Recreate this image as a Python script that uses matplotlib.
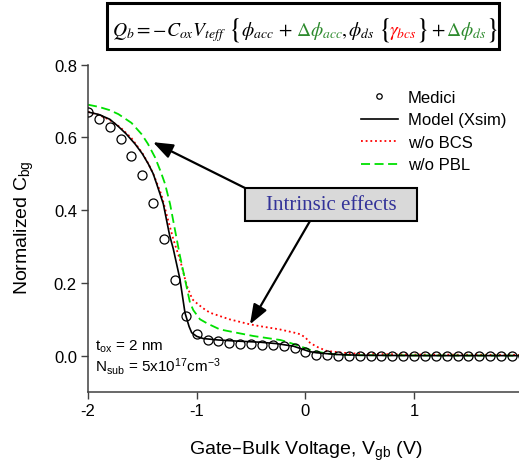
import matplotlib
matplotlib.use("Agg")
import matplotlib.pyplot as plt
from matplotlib.patches import Rectangle

plt.rcParams['font.family'] = ['Liberation Sans', 'DejaVu Sans']

# Medici (device simulation) points
medici_x = [-2.0, -1.9, -1.8, -1.7, -1.6, -1.5, -1.4, -1.3, -1.2, -1.1, -1.0,
            -0.9, -0.8, -0.7, -0.6, -0.5, -0.4, -0.3, -0.2, -0.1, 0.0,
            0.1, 0.2, 0.3, 0.4, 0.5, 0.6, 0.7, 0.8, 0.9, 1.0,
            1.1, 1.2, 1.3, 1.4, 1.5, 1.6, 1.7, 1.8, 1.9, 2.0]
medici_y = [0.669, 0.650, 0.630, 0.595, 0.549, 0.496, 0.419, 0.322, 0.208, 0.109, 0.059,
            0.043, 0.039, 0.036, 0.033, 0.031, 0.030, 0.028, 0.026, 0.020, 0.009,
            0.003, 0.001, 0.0, 0.0, 0.0, 0.0, 0.0, 0.0, 0.0, 0.0,
            0.0, 0.0, 0.0, 0.0, 0.0, 0.0, 0.0, 0.0, 0.0, 0.0]

# Model (Xsim)
model_x = [-2.0, -1.9, -1.8, -1.72, -1.65, -1.567, -1.5, -1.445, -1.4, -1.368, -1.338,
           -1.307, -1.25, -1.215, -1.154, -1.108, -1.07, -1.046, -1.0, -0.94, -0.8,
           -0.632, -0.42, -0.264, -0.11, 0.0, 0.04, 0.1, 0.195, 0.3, 0.5, 1.0, 2.0]
model_y = [0.670, 0.663, 0.650, 0.630, 0.610, 0.582, 0.555, 0.527, 0.500, 0.472, 0.445,
           0.417, 0.332, 0.293, 0.210, 0.118, 0.080, 0.063, 0.053, 0.047, 0.043,
           0.040, 0.037, 0.033, 0.026, 0.015, 0.011, 0.008, 0.0055, 0.003, 0.001, 0.0, 0.0]

# w/o BCS
bcs_x = [-2.0, -1.9, -1.8, -1.7, -1.6, -1.5, -1.445, -1.4, -1.36, -1.322, -1.27, -1.215,
         -1.15, -1.092, -1.04, -1.015, -0.94, -0.878, -0.7, -0.51, -0.418, -0.234, -0.1,
         -0.05, 0.0, 0.04, 0.1, 0.195, 0.345, 0.5, 1.0, 2.0]
bcs_y = [0.670, 0.662, 0.648, 0.627, 0.598, 0.557, 0.528, 0.500, 0.470, 0.440, 0.380, 0.320,
         0.260, 0.193, 0.155, 0.148, 0.130, 0.118, 0.100, 0.086, 0.081, 0.072, 0.063,
         0.059, 0.050, 0.036, 0.025, 0.013, 0.008, 0.005, 0.003, 0.002]

# w/o PBL
pbl_x = [-2.0, -1.9, -1.8, -1.72, -1.6, -1.507, -1.45, -1.383, -1.33, -1.291, -1.245, -1.2,
         -1.154, -1.108, -1.062, -1.031, -0.97, -0.9, -0.786, -0.6, -0.479, -0.3, -0.23,
         -0.15, -0.05, 0.07, 0.195, 0.3, 0.5, 2.0]
pbl_y = [0.690, 0.684, 0.675, 0.664, 0.640, 0.609, 0.583, 0.545, 0.505, 0.472, 0.417, 0.346,
         0.274, 0.210, 0.146, 0.125, 0.100, 0.088, 0.072, 0.061, 0.054, 0.046, 0.043,
         0.036, 0.026, 0.013, 0.006, 0.003, 0.001, 0.0]

W, H = 519, 464
fig = plt.figure(figsize=(W / 100, H / 100), dpi=100)
ax = fig.add_axes([88 / W, 1 - 393 / H, 434.8 / W, 327.3 / H])

ax.plot(medici_x, medici_y, 'o', mfc='none', mec='black', ms=6.5, mew=0.9,
        label='Medici', zorder=3)
ax.plot(model_x, model_y, '-', color='black', lw=1.2, label='Model (Xsim)', zorder=4)
ax.plot(bcs_x, bcs_y, color='#ff0000', lw=1.3, ls=(0, (1, 1.6)), label='w/o BCS', zorder=2)
ax.plot(pbl_x, pbl_y, color='#00e000', lw=1.3, ls=(0, (5, 2.5)), label='w/o PBL', zorder=2)

ax.set_xlim(-2, 2)
ax.set_ylim(-0.1, 0.8)
ax.set_xticks([-2, -1, 0, 1, 2])
ax.set_xticklabels(['-2', '-1', '0', '1', '2'])
ax.set_yticks([0.0, 0.2, 0.4, 0.6, 0.8])
ax.set_yticklabels(['0.0', '0.2', '0.4', '0.6', '0.8'])
ax.tick_params(direction='out', length=5, width=1, pad=3, labelsize=12, color='#404040')
for s in ['top', 'right']:
    ax.spines[s].set_visible(False)
for s in ['left', 'bottom']:
    ax.spines[s].set_color('#404040')
    ax.spines[s].set_linewidth(1.1)

ax.set_xlabel('Gate\u2013Bulk Voltage, $\\mathregular{V_{gb}}$ (V)', fontsize=14, labelpad=15)
ax.set_ylabel(r'Normalized $\mathregular{C_{bg}}$', fontsize=14)
ax.yaxis.set_label_coords(-0.12, 0.505)

ax.text(-1.936, 0.017, r'$\mathregular{t_{ox}}$ = 2 nm', fontsize=11, va='baseline')
ax.text(-1.936, -0.042, r'$\mathregular{N_{sub}}$ = 5x10$\mathregular{^{17}}$cm$\mathregular{^{-3}}$',
        fontsize=11, va='baseline')

leg = ax.legend(loc='upper left', bbox_to_anchor=(361 / W, 1 - 91 / H),
                bbox_transform=fig.transFigure, frameon=False, fontsize=12,
                handlelength=2.2, handletextpad=0.6, labelspacing=0.45,
                borderpad=0, borderaxespad=0, markerscale=0.6, numpoints=1)

# "Intrinsic effects" callout
ax.add_patch(Rectangle((-0.556, 0.370), 1.583, 0.091, facecolor='#d9d9d9',
                       edgecolor='black', lw=1.5, zorder=5))
ax.text(0.2355, 0.4155, 'Intrinsic effects', fontsize=15, color='#333399',
        family='Liberation Serif', ha='center', va='center', zorder=6)
arrow = dict(arrowstyle='-|>,head_length=0.8,head_width=0.3', mutation_scale=15,
             color='black', lw=1.6, shrinkA=0, shrinkB=0)
ax.annotate('', xy=(-1.402, 0.587), xytext=(-0.556, 0.461), arrowprops=arrow, zorder=6)
ax.annotate('', xy=(-0.51, 0.086), xytext=(0.042, 0.370), arrowprops=arrow, zorder=6)

# formula box on top
fig.patches.append(Rectangle((107 / W, 1 - 50 / H), 392 / W, 46 / H, transform=fig.transFigure,
                             facecolor='white', edgecolor='black', lw=2.2))
green = '#2e8b2e'
# (text, colour, size factor, left edge in px)
pieces = [
    (r'$Q_b = -C_{ox}V_{teff}$', 'black', 1.0, 112),
    (r'$\{$', 'black', 1.45, 228),
    (r'$\phi_{acc}$', 'black', 1.0, 241),
    (r'$+$', 'black', 1.0, 278),
    (r'$\Delta\phi_{acc}$', green, 1.0, 296),
    (r'$,\phi_{ds}$', 'black', 1.0, 341),
    (r'$\{$', 'black', 1.45, 378),
    (r'$\gamma_{bcs}$', '#ff0000', 1.0, 389),
    (r'$\}$', 'black', 1.45, 415),
    (r'$+$', 'black', 1.0, 431),
    (r'$\Delta\phi_{ds}$', green, 1.0, 446),
    (r'$\}$', 'black', 1.45, 485),
]
renderer = fig.canvas.get_renderer()

# fit the font size so the first piece spans the same width as in the picture
probe = fig.text(0, 0, pieces[0][0], fontsize=16, math_fontfamily='stix')
size = 16 * 114 / probe.get_window_extent(renderer).width
probe.remove()
size = min(size, 19)

for txt, c, k, left in pieces:
    fig.text(left / W, 1 - 36 / H, txt, color=c, fontsize=size * k, va='baseline',
             math_fontfamily='stix')

fig.savefig('out.png', dpi=100)
